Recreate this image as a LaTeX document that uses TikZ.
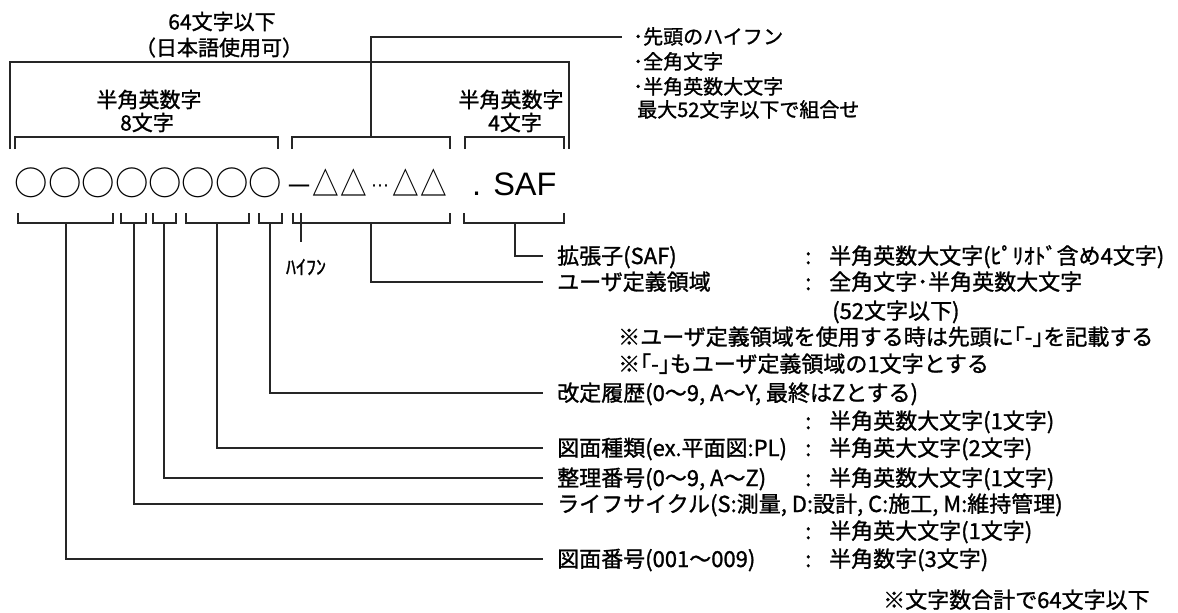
\documentclass[tikz,border=0pt]{standalone}
\usepackage{fontspec}
\usepackage{graphicx}
\setmainfont{Liberation Sans}
\newfontfamily\jp[FakeBold=1.2]{Noto Sans CJK JP}
\newfontfamily\jpn{Noto Sans CJK JP}
\newfontfamily\dvs{DejaVu Sans}
\newcommand\csep{\makebox[24pt][l]{:}}
\newcommand\cbx{\makebox[33.4pt]{○}}
\newcommand\tbx{\makebox[28pt]{\scalebox{0.86}[1.08]{△}}}
\begin{document}
\begin{tikzpicture}[x=1pt,y=-1pt,
  every node/.style={inner sep=0pt, font=\jp},
  ln/.style={line width=1.2pt, black!85, line cap=butt},
  lab/.style={anchor=west, font=\jp\fontsize{22}{26}\selectfont, text height=18pt, text depth=2pt},
  toplab/.style={font=\jp\fontsize{21}{25}\selectfont, text height=17pt, text depth=2pt},
  lst/.style={anchor=west, font=\jp\fontsize{20}{24}\selectfont, text height=16pt, text depth=2pt}
]
\useasboundingbox (0,0) rectangle (1178,613);

% top labels
\node[toplab] (t64) at (222,22) {64文字以下};
\node[toplab] (tjp) at (219,48) {（日本語使用可）};
\node[toplab] (hl1) at (149,100) {半角英数字};
\node[toplab] (hl2) at (147,123) {8文字};
\node[toplab] (hr1) at (511,100) {半角英数字};
\node[toplab] (hr2) at (515,123) {4文字};

% user-area list
\node[lst] (l1) at (633,37) {･先頭のハイフン};
\node[lst] (l2) at (633,62) {･全角文字};
\node[lst] (l3) at (633,87) {･半角英数大文字};
\node[lst] (l4) at (637,110) {最大52文字以下で組合せ};

% main file name
\node[font=\jpn\fontsize{33.4}{40}\selectfont] (circ) at (148.5,182.5) {\cbx\cbx\cbx\cbx\cbx\cbx\cbx\cbx};
\node[font=\jpn\fontsize{31}{38}\selectfont] (tri) at (366,182.5) {\makebox[28pt]{\hspace{3pt}\fontsize{28}{32}\selectfont －}\tbx\tbx\makebox[24pt]{\raisebox{5pt}{\dvs\fontsize{18}{22}\selectfont ⋯}}\tbx\tbx};
\node[anchor=base west, font=\fontsize{32.5}{38}\selectfont] (saf) at (472,195) {. SAF};

% upper brackets
\draw[ln] (10,149) -- (10,62) -- (569,62) -- (569,149);
\draw[ln] (15,149) -- (15,137) -- (278,137) -- (278,149);
\draw[ln] (292,149) -- (292,137) -- (450,137) -- (450,149);
\draw[ln] (465,149) -- (465,137) -- (564,137) -- (564,149);
\coordinate (ub) at (371,137);
\draw[ln] (ub) |- ([xshift=-11pt]l1.west);

% lower brackets
\draw[ln] (18,213) -- (18,223) -- (113,223) -- (113,213);
\draw[ln] (121,213) -- (121,223) -- (146,223) -- (146,213);
\draw[ln] (153,213) -- (153,223) -- (176,223) -- (176,213);
\draw[ln] (186,213) -- (186,223) -- (249,223) -- (249,213);
\draw[ln] (259,213) -- (259,223) -- (282,223) -- (282,213);
\draw[ln] (293,213) -- (293,223) -- (450,223) -- (450,213);
\draw[ln] (464,213) -- (464,223) -- (564,223) -- (564,213);
\coordinate (s1) at (66,223);
\coordinate (s2) at (134,223);
\coordinate (s3) at (164,223);
\coordinate (s4) at (217,223);
\coordinate (s5) at (270,223);
\coordinate (s6) at (371,223);
\coordinate (s7) at (515,223);
\coordinate (hy) at (301,213);

% hyphen
\node[font=\jp\fontsize{20}{24}\selectfont] (hyl) at (306,267) {ﾊｲﾌﾝ};
\draw[ln] (hy) -- (hy |- 0,242);

% labels
\node[lab] (ext) at (557,256) {拡張子(SAF)};
\node[lab] (extd) at (805,256) {\csep 半角英数大文字(ﾋﾟﾘｵﾄﾞ含め4文字)};
\node[lab] (usr) at (557,282) {ユーザ定義領域};
\node[lab] (usrd) at (805,282) {\csep 全角文字･半角英数大文字};
\node[lab] (usr2) at (832,311) {(52文字以下)};
\node[lab] (n1) at (618,337) {※ユーザ定義領域を使用する時は先頭に｢-｣を記載する};
\node[lab] (n2) at (618,364) {※｢-｣もユーザ定義領域の1文字とする};
\node[lab] (rev) at (557,393) {改定履歴(0～9, A～Y, 最終はZとする)};
\node[lab] (revd) at (805,421) {\csep 半角英数大文字(1文字)};
\node[lab] (typ) at (557,448) {図面種類(ex.平面図:PL)};
\node[lab] (typd) at (805,448) {\csep 半角英大文字(2文字)};
\node[lab] (ser) at (557,478) {整理番号(0～9, A～Z)};
\node[lab] (serd) at (805,478) {\csep 半角英数大文字(1文字)};
\node[lab] (lif) at (557,504) {ライフサイクル(S:測量, D:設計, C:施工, M:維持管理)};
\node[lab] (lifd) at (805,531) {\csep 半角英大文字(1文字)};
\node[lab] (num) at (557,559) {図面番号(001～009)};
\node[lab] (numd) at (805,559) {\csep 半角数字(3文字)};
\node[lab] (tot) at (883,600) {※文字数合計で64文字以下};

% leaders
\draw[ln] (s7) |- ([xshift=-14pt]ext.west);
\draw[ln] (s6) |- ([xshift=-14pt]usr.west);
\draw[ln] (s5) |- ([xshift=-14pt]rev.west);
\draw[ln] (s4) |- ([xshift=-14pt]typ.west);
\draw[ln] (s3) |- ([xshift=-14pt]ser.west);
\draw[ln] (s2) |- ([xshift=-14pt]lif.west);
\draw[ln] (s1) |- ([xshift=-14pt]num.west);
\end{tikzpicture}
\end{document}
